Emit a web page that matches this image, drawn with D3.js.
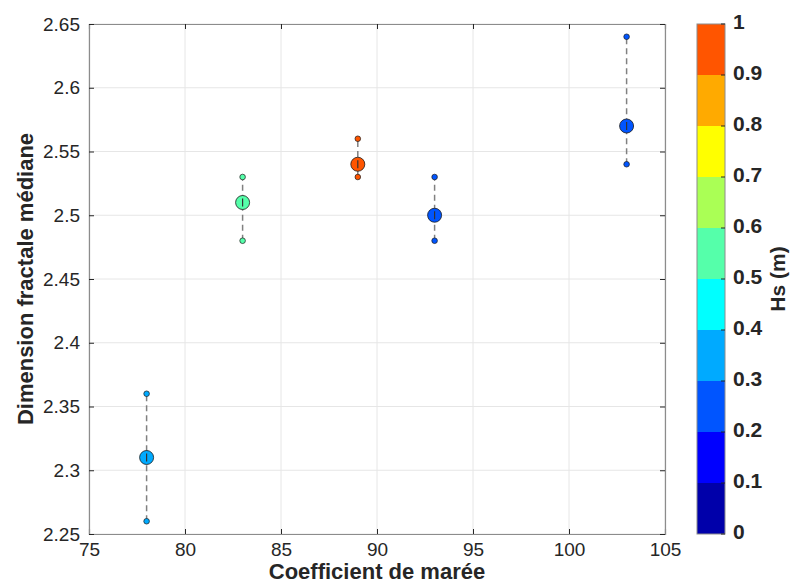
<!DOCTYPE html>
<html><head><meta charset="utf-8">
<script src="https://cdn.jsdelivr.net/npm/d3@7"></script>
<style>body{margin:0;background:#fff;} text{font-family:"Liberation Sans",Arial,Helvetica,sans-serif;}</style>
</head><body>
<svg id="c" width="790" height="584"></svg>
<script>
const coef = [78, 83, 89, 93, 103];
const median = [2.31, 2.51, 2.54, 2.50, 2.57];
const low = [2.26, 2.48, 2.53, 2.48, 2.54];
const high = [2.36, 2.53, 2.56, 2.53, 2.64];
const hs = [0.35, 0.55, 0.95, 0.25, 0.25];
const xTicks = [75, 80, 85, 90, 95, 100, 105];
const yTicks = [2.25, 2.3, 2.35, 2.4, 2.45, 2.5, 2.55, 2.6, 2.65];
const cbTicks = [0, 0.1, 0.2, 0.3, 0.4, 0.5, 0.6, 0.7, 0.8, 0.9, 1];
const jet10 = ["#0000aa","#0000ff","#0055ff","#00aaff","#00ffff","#55ffaa","#aaff55","#ffff00","#ffaa00","#ff5500"];

const svg = d3.select("#c");
const L = 89, R = 665, T = 24, B = 534;
const x = d3.scaleLinear().domain([75, 105]).range([L, R]);
const y = d3.scaleLinear().domain([2.25, 2.65]).range([B, T]);
const color = d3.scaleQuantize().domain([0, 1]).range(jet10);
const tc = "#262626";

// grid
svg.append("g").selectAll("line").data(xTicks).join("line")
  .attr("x1", d => x(d)).attr("x2", d => x(d)).attr("y1", T).attr("y2", B)
  .attr("stroke", "#e6e6e6").attr("stroke-width", 1);
svg.append("g").selectAll("line").data(yTicks).join("line")
  .attr("y1", d => y(d)).attr("y2", d => y(d)).attr("x1", L).attr("x2", R)
  .attr("stroke", "#e6e6e6").attr("stroke-width", 1);

// axes
const xa = svg.append("g").attr("transform", `translate(0,${B})`)
  .call(d3.axisBottom(x).tickValues(xTicks).tickSize(-5).tickPadding(9).tickFormat(d3.format("d")));
const xa2 = svg.append("g").attr("transform", `translate(0,${T})`)
  .call(d3.axisTop(x).tickValues(xTicks).tickSize(-5).tickFormat(""));
const ya = svg.append("g").attr("transform", `translate(${L},0)`)
  .call(d3.axisLeft(y).tickValues(yTicks).tickSize(-5).tickPadding(9).tickFormat(d => d3.format("")(+d.toFixed(2))));
const ya2 = svg.append("g").attr("transform", `translate(${R},0)`)
  .call(d3.axisRight(y).tickValues(yTicks).tickSize(-5).tickFormat(""));
[xa, xa2, ya, ya2].forEach(g => {
  g.select(".domain").attr("stroke", "#8c8c8c").attr("stroke-width", 1.2);
  g.selectAll(".tick line").attr("stroke", "#262626");
  g.selectAll(".tick text").attr("fill", tc).style("font-size", "19px").style("font-family", "Liberation Sans, Arial, sans-serif");
});

// error lines
svg.append("g").selectAll("line").data(coef).join("line")
  .attr("x1", (d) => x(d)).attr("x2", d => x(d))
  .attr("y1", (d, i) => y(low[i])).attr("y2", (d, i) => y(high[i]))
  .attr("stroke", "#808080").attr("stroke-width", 1.5).attr("stroke-dasharray", "6,4");

// big markers
svg.append("g").selectAll("circle").data(coef).join("circle")
  .attr("cx", d => x(d)).attr("cy", (d, i) => y(median[i])).attr("r", 7)
  .attr("fill", (d, i) => color(hs[i])).attr("stroke", "#1a1a1a").attr("stroke-width", 0.8);
// line through big markers
svg.append("g").selectAll("line").data(coef).join("line")
  .attr("x1", d => x(d)).attr("x2", d => x(d))
  .attr("y1", (d, i) => y(median[i]) - 4).attr("y2", (d, i) => y(median[i]) + 4)
  .attr("stroke", "#333").attr("stroke-width", 1.2);
// small markers
const small = coef.flatMap((d, i) => [{x: d, v: low[i], h: hs[i]}, {x: d, v: high[i], h: hs[i]}]);
svg.append("g").selectAll("circle").data(small).join("circle")
  .attr("cx", d => x(d.x)).attr("cy", d => y(d.v)).attr("r", 2.8)
  .attr("fill", d => color(d.h)).attr("stroke", "#1a1a1a").attr("stroke-width", 0.7);

// axis labels
svg.append("text").attr("x", (L + R) / 2).attr("y", 579).attr("text-anchor", "middle")
  .attr("fill", tc).style("font-size", "22px").style("font-weight", "bold").text("Coefficient de marée");
svg.append("text").attr("transform", `translate(33,${(T + B) / 2}) rotate(-90)`).attr("text-anchor", "middle")
  .attr("fill", tc).style("font-size", "22px").style("font-weight", "bold").text("Dimension fractale médiane");

// colorbar
const cbL = 697, cbW = 28;
const cy = d3.scaleLinear().domain([0, 1]).range([B, T]);
svg.append("g").selectAll("rect").data(jet10).join("rect")
  .attr("x", cbL).attr("width", cbW)
  .attr("y", (d, i) => cy((i + 1) / 10)).attr("height", (d, i) => cy(i / 10) - cy((i + 1) / 10))
  .attr("fill", d => d);
svg.append("rect").attr("x", cbL).attr("y", T).attr("width", cbW).attr("height", B - T)
  .attr("fill", "none").attr("stroke", "#8c8c8c").attr("stroke-width", 1);
svg.append("g").selectAll("line").data(cbTicks).join("line")
  .attr("x1", cbL + cbW - 4).attr("x2", cbL + cbW).attr("y1", d => cy(d)).attr("y2", d => cy(d))
  .attr("stroke", "#262626");
svg.append("g").selectAll("text").data(cbTicks).join("text")
  .attr("x", 733).attr("y", d => cy(d) + 5).attr("fill", tc)
  .style("font-size", "21px").style("font-weight", "bold").text(d => d3.format("")(d));
svg.append("text").attr("transform", `translate(785,${(T + B) / 2}) rotate(-90)`).attr("text-anchor", "middle")
  .attr("fill", tc).style("font-size", "21px").style("font-weight", "bold").text("Hs (m)");
</script>
</body></html>
